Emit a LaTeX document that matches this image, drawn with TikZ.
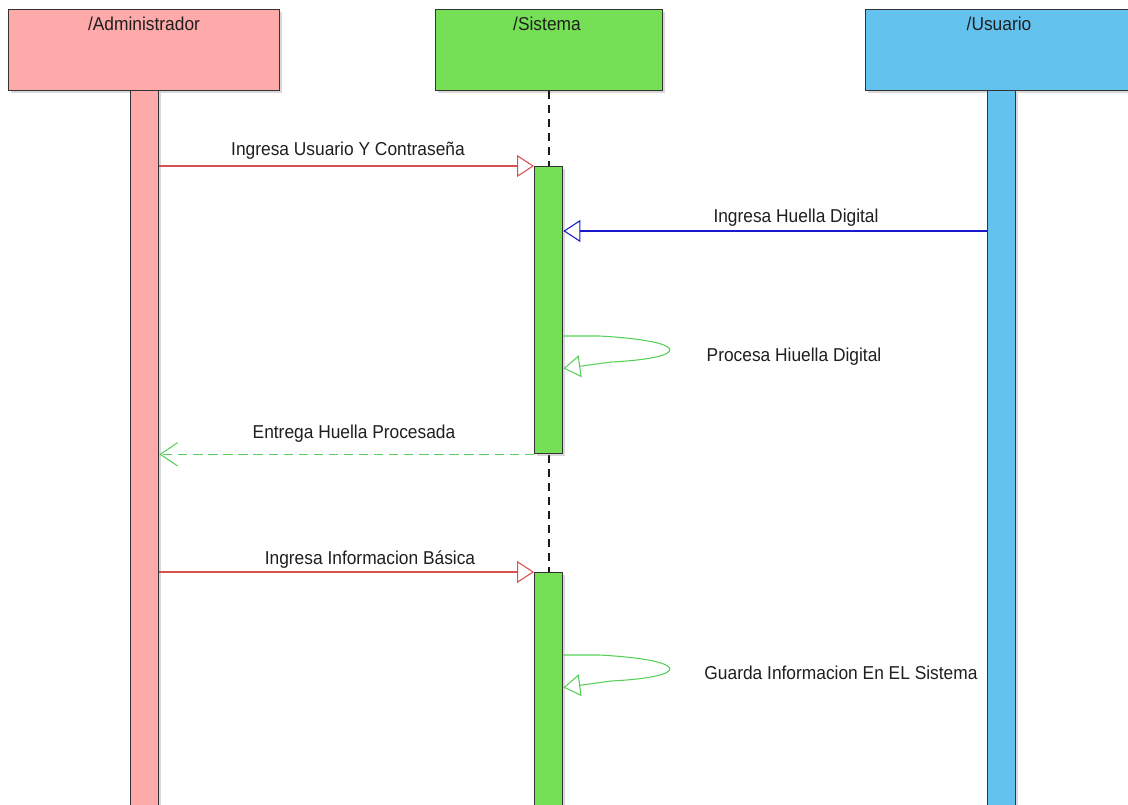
\documentclass[tikz,border=0pt]{standalone}
\usepackage{fontspec}
\setmainfont[FakeStretch=0.93]{Liberation Sans}
\usetikzlibrary{arrows.meta,shadows}

\definecolor{adminfill}{HTML}{FFAAAA}
\definecolor{sysfill}{HTML}{75E055}
\definecolor{userfill}{HTML}{63C3EE}
\definecolor{msgred}{HTML}{D85050}
\definecolor{msgblue}{HTML}{1A1ACC}
\definecolor{msggreen}{HTML}{58D058}
\definecolor{edge}{HTML}{333333}

\begin{document}
\begin{tikzpicture}[x=0.75pt,y=-0.75pt,
  every node/.style={font=\fontsize{14}{16}\selectfont, text=black!88},
  shade box/.style={draw=edge, line width=1pt, inner sep=0pt, anchor=north west,
    drop shadow={opacity=0.3, shadow xshift=1.4pt, shadow yshift=-1.4pt}},
  head/.style={shade box, minimum height=60.75pt},
  lane/.style={shade box, minimum width=21pt},
  title/.style={anchor=base, inner sep=0pt},
  msglabel/.style={anchor=base, inner sep=0pt},
  opentip/.tip={Triangle[open, length=12.75pt, width=16.5pt, line width=0.8pt]},
  barbtip/.tip={Straight Barb[length=13pt, width=17.5pt, line width=0.8pt]},
  msg/.style={line width=0.8pt},
  selfmsg/.style={msg, draw=msggreen, -opentip},
]
\useasboundingbox (0,0) rectangle (1128,805);
\clip (0,0) rectangle (1128,805);
\fill[white] (0,0) rectangle (1128,805);

% participant heads
\node[head, fill=adminfill, minimum width=203.25pt] (admhead) at (8,9) {};
\node[head, fill=sysfill,   minimum width=170.25pt] (syshead) at (435,9) {};
\node[head, fill=userfill,  minimum width=206.25pt] (usrhead) at (865,9) {};
\node[title] (admtitle) at (144,31) {/Administrador};
\node[title] (systitle) at (547,31) {/Sistema};
\node[title] (usrtitle) at (999,31) {/Usuario};

% lifelines
\draw[black!90, line width=1.1pt, dash pattern=on 6pt off 4.5pt] (syshead.south) -- ++(0,740);
\node[lane, fill=adminfill, minimum height=547.5pt] (admbar) at (130,90) {};
\node[lane, fill=userfill,  minimum height=547.5pt] (usrbar) at (987,90) {};

% activations on Sistema
\node[lane, fill=sysfill, minimum height=215.25pt] (act1) at (534,166) {};
\node[lane, fill=sysfill, minimum height=190pt]    (act2) at (534,572) {};

% message anchors
\coordinate (m2y) at (0,231);

% Ingresa Usuario Y Contraseña
\draw[msg, draw=msgred, -opentip] (admbar.east |- act1.north) -- (act1.north west);
\node[msglabel] (l1) at (348,156) {Ingresa Usuario Y Contraseña};

% Ingresa Huella Digital
\draw[msg, draw=msgblue, -opentip] (usrbar.west |- m2y) -- (act1.east |- m2y);
\node[msglabel] (l2) at (796,223) {Ingresa Huella Digital};

% Procesa Hiuella Digital (self call)
\coordinate (s1a) at (act1.east |- 0,336);
\coordinate (s1b) at (act1.east |- 0,368.5);
\draw[selfmsg] (s1a) -- ++(36,0) .. controls +(92,5) and +(80,-4) .. ++(12,26) -- (s1b);
\node[msglabel] (l3) at (794,362) {Procesa Hiuella Digital};

% Entrega Huella Procesada (return)
\draw[msg, draw=msggreen, dash pattern=on 7pt off 4.3pt, -barbtip] (act1.south west) -- (admbar.east |- act1.south);
\node[msglabel] (l4) at (354,438.5) {Entrega Huella Procesada};

% Ingresa Informacion Básica
\draw[msg, draw=msgred, -opentip] (admbar.east |- act2.north) -- (act2.north west);
\node[msglabel] (l5) at (370,564) {Ingresa Informacion Básica};

% Guarda Informacion En EL Sistema (self call)
\coordinate (s2a) at (act2.east |- 0,655);
\coordinate (s2b) at (act2.east |- 0,687.5);
\draw[selfmsg] (s2a) -- ++(36,0) .. controls +(92,5) and +(80,-4) .. ++(12,26) -- (s2b);
\node[msglabel] (l6) at (841,679) {Guarda Informacion En EL Sistema};
\end{tikzpicture}
\end{document}
